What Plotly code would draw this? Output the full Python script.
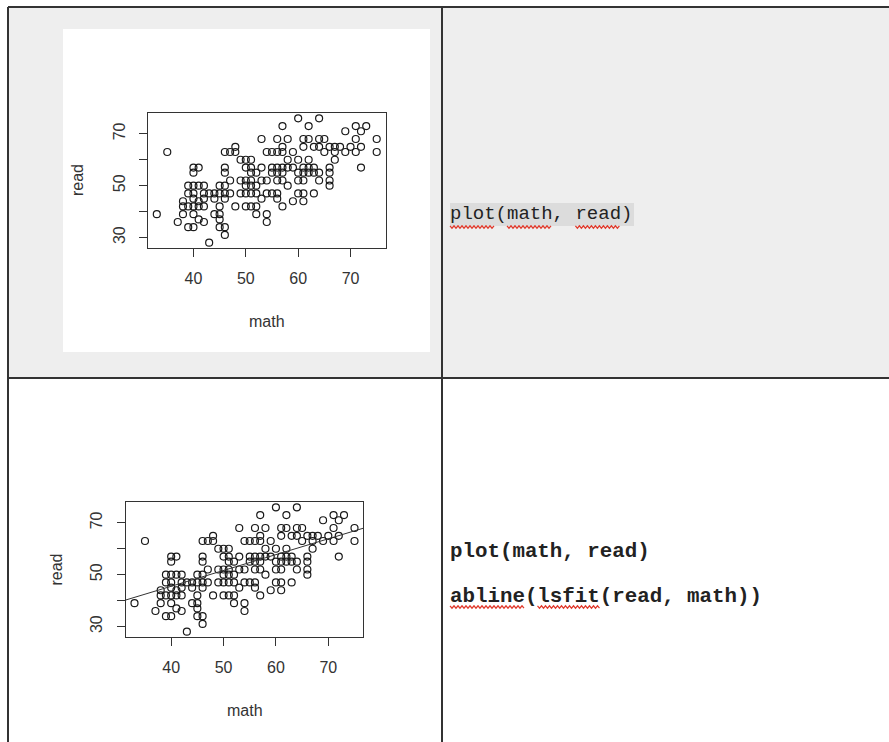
import numpy as np
import plotly.graph_objects as go

# ---------------- data (math, read) ----------------
read_rows = {
    76: [60, 64],
    73: [57, 62, 71, 73],
    71: [69, 72],
    68: [53, 56, 58, 61, 62, 64, 65, 71, 75],
    65: [48, 57, 61, 63, 64, 66, 67, 68, 70, 72],
    63: [35, 46, 47, 48, 54, 55, 56, 57, 59, 65, 67, 69, 71, 75],
    60: [49, 50, 51, 58, 60, 62, 67],
    57: [40, 41, 46, 50, 51, 53, 55, 56, 57, 58, 59, 61, 62, 63, 66, 72],
    55: [40, 46, 51, 52, 55, 56, 57, 60, 61, 62, 63, 64, 66],
    52: [47, 49, 50, 51, 53, 54, 56, 57, 60, 61, 64, 66],
    50: [39, 40, 41, 42, 45, 46, 50, 51, 52, 58, 66],
    47: [39, 40, 42, 43, 44, 45, 46, 47, 49, 50, 51, 52, 54, 55, 56, 60, 61, 63],
    45: [40, 42, 44, 46, 53, 56],
    44: [38, 41, 59, 61],
    42: [38, 39, 40, 41, 42, 45, 48, 50, 51, 52, 57],
    39: [33, 38, 40, 44, 45, 52, 54],
    37: [41, 45],
    36: [37, 42, 54],
    34: [39, 40, 45, 46],
    31: [46],
    28: [43],
}
math = [m for r, ms in read_rows.items() for m in ms]
read = [r for r, ms in read_rows.items() for m in ms]

x_ticks = [40, 50, 60, 70]
y_ticks = [30, 40, 50, 60, 70]
y_ticktext = ["30", "", "50", "", "70"]

code_top = "plot(math, read)"
code_bottom = ["plot(math, read)", "abline(lsfit(read, math))"]

# ---------------- helpers ----------------
W, H = 889, 742
def px(x): return x / W
def py(y): return 1 - y / H

mx = np.array(math, float); rd = np.array(read, float)
def rrange(v):
    lo, hi = v.min(), v.max(); e = 0.04 * (hi - lo)
    return [lo - e, hi + e]
xr = rrange(mx); yr = rrange(rd)

# lsfit(read, math): regress math on read; abline uses (intercept, slope)
slope, intercept = np.polyfit(rd, mx, 1)

fig = go.Figure()

mk = dict(symbol="circle-open", size=7, color="#1a1a1a", line=dict(width=1.2, color="#1a1a1a"))
fig.add_trace(go.Scatter(x=math, y=read, mode="markers", xaxis="x", yaxis="y",
                         marker=mk, showlegend=False, hoverinfo="skip"))
fig.add_trace(go.Scatter(x=math, y=read, mode="markers", xaxis="x2", yaxis="y2",
                         marker=mk, showlegend=False, hoverinfo="skip"))
fig.add_trace(go.Scatter(x=xr, y=[intercept + slope * v for v in xr], mode="lines",
                         xaxis="x2", yaxis="y2", line=dict(color="#333", width=1),
                         showlegend=False, hoverinfo="skip"))

tickfont = dict(family="Liberation Sans, Arial, sans-serif", size=16, color="#333")
def xax(dom, anchor):
    return dict(domain=dom, anchor=anchor, range=xr, tickvals=x_ticks, ticks="outside",
                ticklen=8, tickwidth=1, tickcolor="#333", showline=True, mirror=True,
                linecolor="#333", linewidth=1, showgrid=False, zeroline=False,
                tickfont=tickfont, ticklabelstandoff=8, fixedrange=True)
def yax(dom, anchor):
    return dict(domain=dom, anchor=anchor, range=yr, tickvals=y_ticks, ticktext=y_ticktext,
                ticks="outside", ticklen=8, tickwidth=1, tickcolor="#333", showline=True,
                mirror=True, linecolor="#333", linewidth=1, showgrid=False, zeroline=False,
                tickfont=tickfont, tickangle=-90, ticklabelstandoff=8, fixedrange=True)

top_box = (148, 385.5, 113.3, 247.7)
bot_box = (125.7, 363.3, 502.3, 636.7)

shapes = []
# table backgrounds
shapes.append(dict(type="rect", xref="paper", yref="paper", x0=px(9), x1=px(889),
                   y0=py(378), y1=py(7), fillcolor="#eeeeee", line=dict(width=0), layer="below"))
shapes.append(dict(type="rect", xref="paper", yref="paper", x0=px(63), x1=px(430),
                   y0=py(352), y1=py(29), fillcolor="white", line=dict(width=0), layer="below"))
shapes.append(dict(type="rect", xref="paper", yref="paper", x0=px(450), x1=px(634),
                   y0=py(226), y1=py(203), fillcolor="#dcdcdc", line=dict(width=0), layer="below"))
# borders
for (x0, y0, x1, y1) in [(8, 7, 889, 7), (8, 7, 8, 742), (442, 7, 442, 742), (8, 378, 889, 378)]:
    shapes.append(dict(type="line", xref="paper", yref="paper", x0=px(x0), y0=py(y0),
                       x1=px(x1), y1=py(y1), line=dict(color="#333", width=2)))

def squiggle(xa, xb, y):
    pts = []; x = xa; up = True
    while x <= xb:
        pts.append((x, y - 1.2 if up else y + 1.2)); up = not up; x += 2
    return "M " + " L ".join(f"{px(a):.5f},{py(b):.5f}" for a, b in pts)

cw_top = 11.4
for (c0, c1) in [(0, 4), (5, 9), (11, 15)]:
    shapes.append(dict(type="path", xref="paper", yref="paper",
                       path=squiggle(450 + c0 * cw_top, 450 + c1 * cw_top, 227),
                       line=dict(color="#e0392b", width=1.2)))
cw_bot = 12.5
for (c0, c1) in [(0, 6), (7, 12)]:
    shapes.append(dict(type="path", xref="paper", yref="paper",
                       path=squiggle(450 + c0 * cw_bot, 450 + c1 * cw_bot, 607),
                       line=dict(color="#e0392b", width=1.2)))

labfont = dict(family="Liberation Sans, Arial, sans-serif", size=16, color="#333")
codefont = dict(family="Liberation Mono, Courier New, monospace", size=19, color="#222")
annotations = [
    dict(text="math", x=px((top_box[0] + top_box[1]) / 2), y=py(321), xref="paper", yref="paper",
         showarrow=False, font=labfont, xanchor="center", yanchor="middle"),
    dict(text="read", x=px(77.5), y=py((top_box[2] + top_box[3]) / 2), xref="paper", yref="paper",
         showarrow=False, font=labfont, textangle=-90, xanchor="center", yanchor="middle"),
    dict(text="math", x=px((bot_box[0] + bot_box[1]) / 2), y=py(710), xref="paper", yref="paper",
         showarrow=False, font=labfont, xanchor="center", yanchor="middle"),
    dict(text="read", x=px(56), y=py((bot_box[2] + bot_box[3]) / 2), xref="paper", yref="paper",
         showarrow=False, font=labfont, textangle=-90, xanchor="center", yanchor="middle"),
    dict(text=code_top, x=px(448), y=py(214), xref="paper", yref="paper", showarrow=False,
         font=codefont, xanchor="left", yanchor="middle"),
    dict(text="<b>" + code_bottom[0] + "</b>", x=px(448), y=py(551), xref="paper", yref="paper",
         showarrow=False, font=dict(codefont, size=20.8), xanchor="left", yanchor="middle"),
    dict(text="<b>" + code_bottom[1] + "</b>", x=px(448), y=py(596), xref="paper", yref="paper",
         showarrow=False, font=dict(codefont, size=20.8), xanchor="left", yanchor="middle"),
]

fig.update_layout(
    width=W, height=H, autosize=False,
    margin=dict(l=0, r=0, t=0, b=0, pad=0),
    paper_bgcolor="white", plot_bgcolor="white",
    xaxis=xax([px(top_box[0]), px(top_box[1])], "y"),
    yaxis=yax([py(top_box[3]), py(top_box[2])], "x"),
    xaxis2=xax([px(bot_box[0]), px(bot_box[1])], "y2"),
    yaxis2=yax([py(bot_box[3]), py(bot_box[2])], "x2"),
    shapes=shapes, annotations=annotations,
)
fig.write_html("out.html", config=dict(displayModeBar=False))
